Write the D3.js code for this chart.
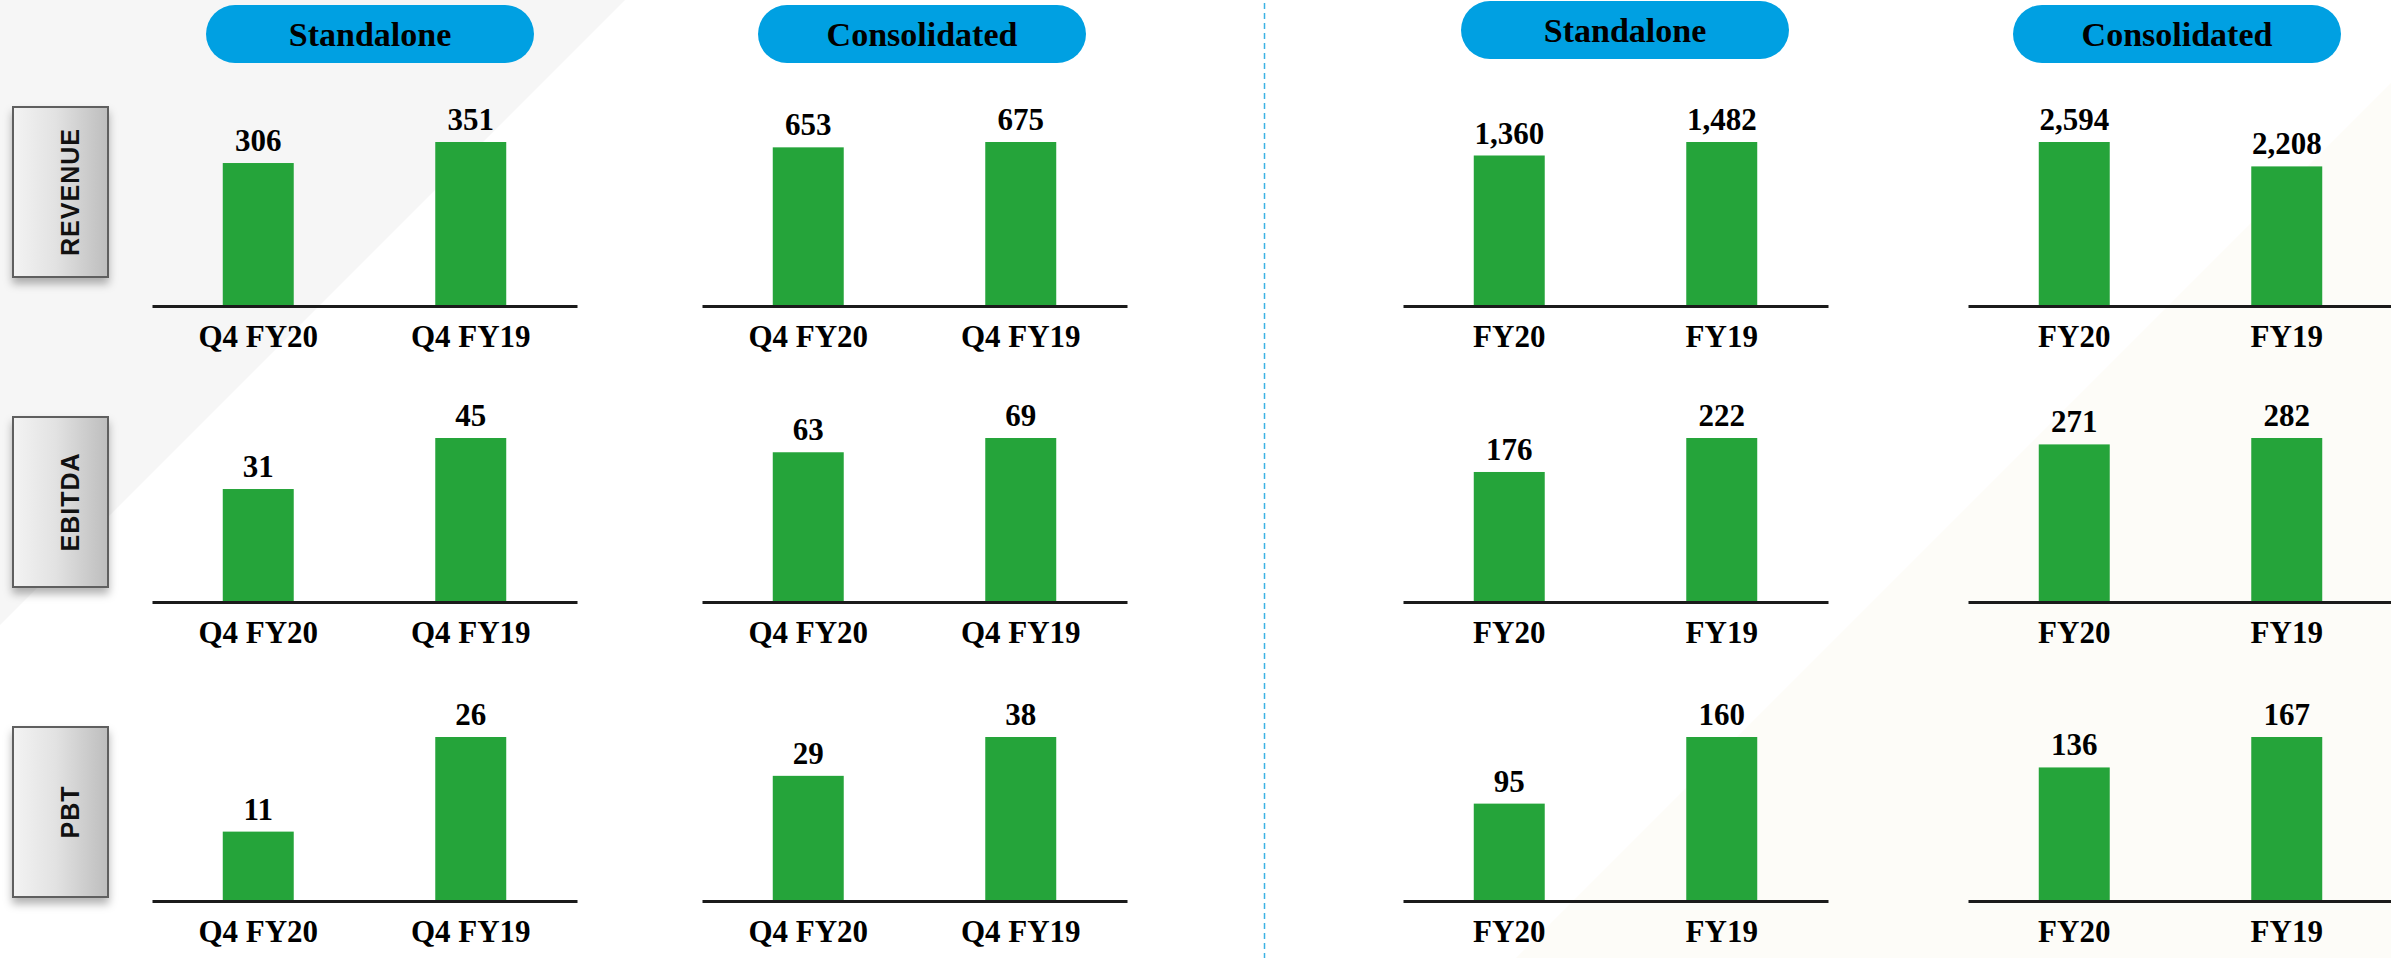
<!DOCTYPE html>
<html>
<head>
<meta charset="utf-8">
<script src="https://cdn.jsdelivr.net/npm/d3@7/dist/d3.min.js"></script>
<style>
  html, body { margin: 0; padding: 0; background: #fff; }
  svg { display: block; }
  .val, .tick text { font-family: "Liberation Serif", "Times New Roman", serif; font-weight: bold; fill: #000; }
  .pill-text { font-family: "Liberation Serif", "Times New Roman", serif; font-weight: bold; font-size: 34px; fill: #000; }
  .row-text { font-family: "Liberation Sans", Arial, sans-serif; font-weight: bold; font-size: 25px; fill: #111; letter-spacing: 1px; }
</style>
</head>
<body>
<svg id="chart" width="2391" height="958"></svg>
<script>
(function () {
  "use strict";

  // data
  const metrics = ["REVENUE", "EBITDA", "PBT"];
  const q4Periods = ["Q4 FY20", "Q4 FY19"];
  const fyPeriods = ["FY20", "FY19"];
  const segments = ["Standalone", "Consolidated", "Standalone", "Consolidated"];

  const q4Standalone = [[306, 351], [31, 45], [11, 26]];
  const q4Consolidated = [[653, 675], [63, 69], [29, 38]];
  const fyStandalone = [[1360, 1482], [176, 222], [95, 160]];
  const fyConsolidated = [[2594, 2208], [271, 282], [136, 167]];

  const panelSeries = [q4Standalone, q4Consolidated, fyStandalone, fyConsolidated];
  const panelPeriods = [q4Periods, q4Periods, fyPeriods, fyPeriods];

  // layout
  const W = 2391, H = 958;
  const panelX = [152, 702, 1403, 1968];
  const panelW = 425;
  const rowBase = [306, 602, 901];
  const barMaxH = 164;
  const pillX = [206, 758, 1461, 2013];
  const pillY = [5, 5, 1, 5];
  const pillW = 328, pillH = 58;
  const rowBoxY = [107, 417, 727];

  const GREEN = "#25a43a";
  const BLUE = "#00a0e2";
  const fmt = d3.format(",");

  const svg = d3.select("#chart");
  const defs = svg.append("defs");

  const grad = defs.append("linearGradient").attr("id", "boxGrad")
    .attr("x1", "0%").attr("x2", "100%").attr("y1", "0%").attr("y2", "0%");
  grad.append("stop").attr("offset", "0%").attr("stop-color", "#f3f3f3");
  grad.append("stop").attr("offset", "45%").attr("stop-color", "#e2e2e2");
  grad.append("stop").attr("offset", "100%").attr("stop-color", "#bdbdbd");

  const shadow = defs.append("filter").attr("id", "boxShadow")
    .attr("x", "-20%").attr("y", "-20%").attr("width", "140%").attr("height", "150%");
  shadow.append("feDropShadow").attr("dx", 0).attr("dy", 6).attr("stdDeviation", 4)
    .attr("flood-color", "#000").attr("flood-opacity", 0.3);

  // background wedges
  svg.append("rect").attr("width", W).attr("height", H).attr("fill", "#fff");
  svg.append("path").attr("d", `M0,0 L625,0 L0,625 Z`).attr("fill", "#f6f6f6");
  svg.append("path").attr("d", `M${W},${2474 - W} L${W},${H} L${2474 - H},${H} Z`).attr("fill", "#fdfcf8");

  // divider
  svg.append("line")
    .attr("x1", 1264.5).attr("x2", 1264.5).attr("y1", 3).attr("y2", H)
    .attr("stroke", "#3cb2e4").attr("stroke-width", 1.5).attr("stroke-dasharray", "6,4");

  // header pills
  segments.forEach((name, i) => {
    const g = svg.append("g").attr("transform", `translate(${pillX[i]},${pillY[i]})`);
    g.append("rect").attr("width", pillW).attr("height", pillH)
      .attr("rx", pillH / 2).attr("ry", pillH / 2).attr("fill", BLUE);
    g.append("text").attr("class", "pill-text")
      .attr("x", pillW / 2).attr("y", pillH / 2 + 12)
      .attr("text-anchor", "middle").text(name);
  });

  // row labels
  metrics.forEach((m, r) => {
    const g = svg.append("g").attr("transform", `translate(13,${rowBoxY[r]})`);
    g.append("rect").attr("width", 95).attr("height", 170)
      .attr("fill", "url(#boxGrad)").attr("stroke", "#5e5e5e").attr("stroke-width", 2)
      .attr("filter", "url(#boxShadow)");
    g.append("text").attr("class", "row-text")
      .attr("transform", `translate(57,85) rotate(-90)`)
      .attr("text-anchor", "middle").attr("dy", "0.36em").text(m);
  });

  // bar panels
  metrics.forEach((m, r) => {
    panelSeries.forEach((series, p) => {
      const values = series[r];
      const periods = panelPeriods[p];
      const rows = periods.map((k, i) => ({ k, v: values[i] }));

      const x = d3.scaleBand().domain(periods).range([0, panelW])
        .paddingInner(0.666).paddingOuter(0.333);
      const y = d3.scaleLinear().domain([0, d3.max(values)]).range([0, -barMaxH]);

      const g = svg.append("g").attr("transform", `translate(${panelX[p]},${rowBase[r]})`);

      g.selectAll("rect.bar").data(rows).join("rect")
        .attr("class", "bar")
        .attr("x", (d) => x(d.k))
        .attr("width", x.bandwidth())
        .attr("y", (d) => y(d.v))
        .attr("height", (d) => -y(d.v))
        .attr("fill", GREEN);

      g.selectAll("text.val").data(rows).join("text")
        .attr("class", "val")
        .attr("x", (d) => x(d.k) + x.bandwidth() / 2)
        .attr("y", (d) => y(d.v) - 12)
        .attr("text-anchor", "middle")
        .attr("font-size", 31)
        .text((d) => fmt(d.v));

      const axis = g.append("g")
        .call(d3.axisBottom(x).tickSize(0).tickSizeOuter(0).tickPadding(0));
      axis.select(".domain").attr("stroke", "#1b1b1b").attr("stroke-width", 3);
      axis.selectAll(".tick text")
        .attr("font-size", 31)
        .attr("dy", 0).attr("y", 41);
    });
  });
})();
</script>
</body>
</html>
